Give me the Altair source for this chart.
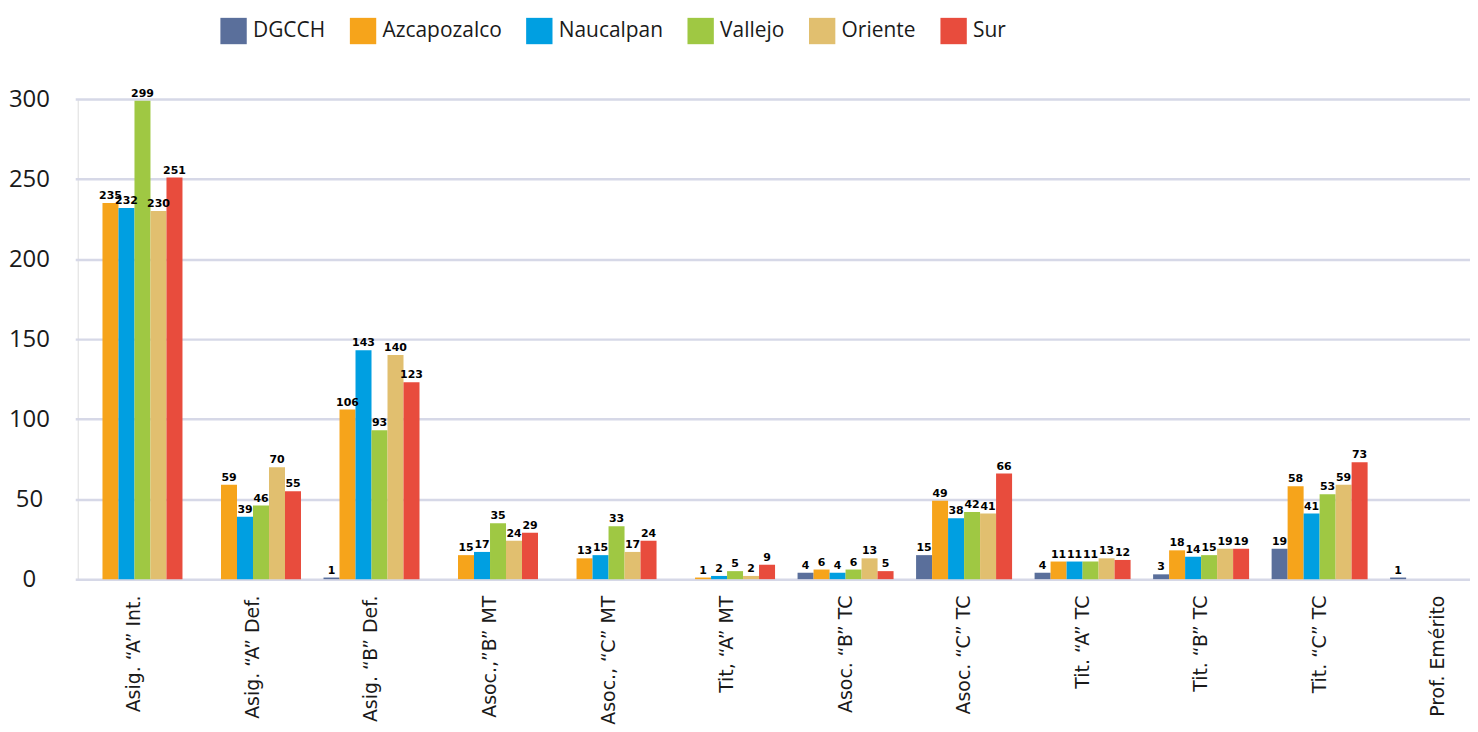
import altair as alt
import pandas as pd

categories = ['Asig. “A” Int.', 'Asig. “A” Def.', 'Asig. “B” Def.', 'Asoc.,”B” MT',
              'Asoc., “C” MT', 'Tit, “A” MT', 'Asoc. “B” TC', 'Asoc. “C” TC',
              'Tit. “A” TC', 'Tit. “B” TC', 'Tit. “C” TC', 'Prof. Emérito']
series = ['DGCCH', 'Azcapozalco', 'Naucalpan', 'Vallejo', 'Oriente', 'Sur']
colors = ['#5a6f9b', '#f6a41b', '#009fe1', '#9fc843', '#e1bf6f', '#e84c3d']

dgcch = [None, None, 1, None, None, None, 4, 15, 4, 3, 19, 1]
azcapozalco = [235, 59, 106, 15, 13, 1, 6, 49, 11, 18, 58, None]
naucalpan = [232, 39, 143, 17, 15, 2, 4, 38, 11, 14, 41, None]
vallejo = [299, 46, 93, 35, 33, 5, 6, 42, 11, 15, 53, None]
oriente = [230, 70, 140, 24, 17, 2, 13, 41, 13, 19, 59, None]
sur = [251, 55, 123, 29, 24, 9, 5, 66, 12, 19, 73, None]

values = [dgcch, azcapozalco, naucalpan, vallejo, oriente, sur]
rows = []
for s, vals in zip(series, values):
    for c, v in zip(categories, vals):
        if v is not None:
            rows.append({'cat': c, 'serie': s, 'valor': v})
df = pd.DataFrame(rows)

W = 1398
H = 482
step = 119.0
r0 = -2.5

xenc = alt.X('cat:N', sort=categories, title=None,
             scale=alt.Scale(range=[r0, r0 + 12 * step], paddingInner=0.19, paddingOuter=0.095),
             axis=alt.Axis(labelAngle=-90, labelAlign='right', labelBaseline='middle',
                           labelFont='DejaVu Sans', labelFontSize=19, labelColor='#1a1a1a',
                           labelPadding=16, ticks=False, domain=False, grid=False))
xoff = alt.XOffset('serie:N', sort=series, scale=alt.Scale(paddingInner=0, paddingOuter=0))

base = alt.Chart(df)

bars = base.mark_bar().encode(
    x=xenc,
    xOffset=xoff,
    y=alt.Y('valor:Q', title=None,
            scale=alt.Scale(domain=[0, 300], nice=False),
            axis=alt.Axis(values=[0, 50, 100, 150, 200, 250, 300], labelFont='Open Sans',
                          labelFontSize=24, labelColor='#1a1a1a', labelAlign='center',
                          labelPadding=49, ticks=False, domain=False,
                          gridColor='#d6d8e7', gridWidth=2.5)),
    color=alt.Color('serie:N', sort=series,
                    scale=alt.Scale(domain=series, range=colors),
                    legend=alt.Legend(title=None, orient='none', direction='horizontal',
                                      legendX=143, legendY=-82, symbolType='square',
                                      symbolSize=700, symbolStrokeWidth=0, symbolOpacity=1,
                                      labelFont='Open Sans', labelFontSize=21,
                                      labelColor='#1a1a1a', labelOffset=6,
                                      columnPadding=24, labelLimit=300))
)

labels = base.mark_text(font='DejaVu Sans', fontWeight='bold', fontSize=11,
                        baseline='bottom', dy=-2, color='#000000').encode(
    x=alt.X('cat:N', sort=categories),
    xOffset=alt.XOffset('serie:N', sort=series),
    y=alt.Y('valor:Q'),
    text=alt.Text('valor:Q')
)

chart = alt.layer(bars, labels).properties(
    width=W, height=H,
    autosize=alt.AutoSizeParams(type='none'),
    padding={'left': 70, 'top': 90, 'right': 0, 'bottom': 150}
).configure_view(stroke=None).configure(background='white')

chart.save("out.html", embed_options={"renderer": "svg", "actions": False})
